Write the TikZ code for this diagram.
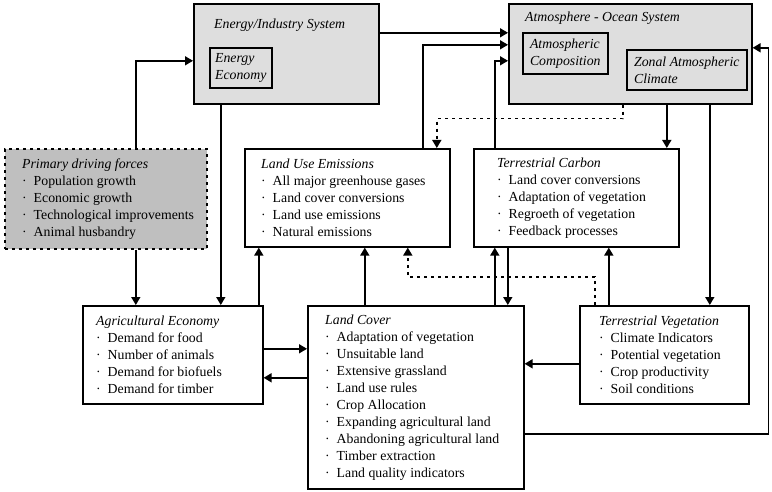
\documentclass[tikz,border=0pt]{standalone}
\usepackage{fontspec}
\setmainfont{Liberation Serif}
\usetikzlibrary{arrows.meta}

\begin{document}
\begin{tikzpicture}[x=1pt,y=-1pt,
  font=\fontsize{13.8}{17}\selectfont,
  blk/.style={draw, line width=1.6pt, anchor=north west, inner sep=0pt},
  txt/.style={anchor=west, align=left, inner sep=0pt},
  flow/.style={line width=1.6pt, -{Triangle[length=8pt,width=9pt]}},
  dflow/.style={flow, dash pattern=on 3pt off 4pt}]

\useasboundingbox (0,0) rectangle (772,492);

% upper systems
\node[blk, fill=black!13, minimum width=185pt, minimum height=100pt] (eis) at (193,3) {};
\node[anchor=base west, inner sep=0pt] (eist) at ([xshift=21pt,yshift=-26pt]eis.north west) {\itshape Energy/Industry System};
\node[blk, align=left, inner xsep=5pt, minimum width=62pt, minimum height=40pt] (ee) at (209,47) {\itshape Energy\\\itshape Economy};

\node[blk, fill=black!13, minimum width=243pt, minimum height=100pt] (aos) at (508,3) {};
\node[anchor=base west, inner sep=0pt] (aost) at ([xshift=17pt,yshift=-19pt]aos.north west) {\itshape Atmosphere - Ocean System};
\node[blk, align=left, inner xsep=6pt, minimum width=85pt, minimum height=41pt] (ac) at (522,32) {\itshape Atmospheric\\\itshape Composition};
\node[blk, align=left, inner xsep=7pt, minimum width=120pt, minimum height=40pt] (zac) at (626,49) {\itshape Zonal Atmospheric\\\itshape Climate};

% middle row
\node[blk, fill=black!25, dash pattern=on 3pt off 4pt, minimum width=202pt, minimum height=100pt] (pdf) at (4,148) {};
\node[txt] (pdft) at ([xshift=18pt]pdf.west) {\textit{Primary driving forces}\\
  \textperiodcentered\enspace Population growth\\
  \textperiodcentered\enspace Economic growth\\
  \textperiodcentered\enspace Technological improvements\\
  \textperiodcentered\enspace Animal husbandry};

\node[blk, minimum width=205pt, minimum height=98pt] (lue) at (244,148) {};
\node[txt] (luet) at ([xshift=17pt]lue.west) {\textit{Land Use Emissions}\\
  \textperiodcentered\enspace All major greenhouse gases\\
  \textperiodcentered\enspace Land cover conversions\\
  \textperiodcentered\enspace Land use emissions\\
  \textperiodcentered\enspace Natural emissions};

\node[blk, minimum width=205pt, minimum height=98pt] (tc) at (473,148) {};
\node[txt] (tct) at ([xshift=24pt]tc.west) {\textit{Terrestrial Carbon}\\
  \textperiodcentered\enspace Land cover conversions\\
  \textperiodcentered\enspace Adaptation of vegetation\\
  \textperiodcentered\enspace Regroeth of vegetation\\
  \textperiodcentered\enspace Feedback processes};

% lower row
\node[blk, minimum width=180pt, minimum height=98pt] (age) at (82,305) {};
\node[txt] (aget) at ([xshift=14pt]age.west) {\textit{Agricultural Economy}\\
  \textperiodcentered\enspace Demand for food\\
  \textperiodcentered\enspace Number of animals\\
  \textperiodcentered\enspace Demand for biofuels\\
  \textperiodcentered\enspace Demand for timber};

\node[blk, minimum width=216pt, minimum height=183pt] (lc) at (307,305) {};
\node[txt] (lct) at ([xshift=18pt]lc.west) {\textit{Land Cover}\\
  \textperiodcentered\enspace Adaptation of vegetation\\
  \textperiodcentered\enspace Unsuitable land\\
  \textperiodcentered\enspace Extensive grassland\\
  \textperiodcentered\enspace Land use rules\\
  \textperiodcentered\enspace Crop Allocation\\
  \textperiodcentered\enspace Expanding agricultural land\\
  \textperiodcentered\enspace Abandoning agricultural land\\
  \textperiodcentered\enspace Timber extraction\\
  \textperiodcentered\enspace Land quality indicators};

\node[blk, minimum width=169pt, minimum height=98pt] (tv) at (579,305) {};
\node[txt] (tvt) at ([xshift=20pt]tv.west) {\textit{Terrestrial Vegetation}\\
  \textperiodcentered\enspace Climate Indicators\\
  \textperiodcentered\enspace Potential vegetation\\
  \textperiodcentered\enspace Crop productivity\\
  \textperiodcentered\enspace Soil conditions};

% links between systems
\draw[flow] ([xshift=30pt]pdf.north) |- ([yshift=-7pt]eis.west);
\draw[flow] ([xshift=30pt]pdf.south) -- ([xshift=30pt]pdf.south |- age.north);
\draw[flow] ([xshift=-65.5pt]eis.south) -- ([xshift=-65.5pt]eis.south |- age.north);
\draw[flow] ([yshift=21pt]eis.east) -- ([yshift=21pt]eis.east -| aos.west);
\draw[flow] ([xshift=75.5pt]lue.north) |- ([yshift=9pt]aos.west);
\draw[flow] ([xshift=-81.5pt]tc.north) |- ([yshift=-7pt]aos.west);
\draw[dflow] ([xshift=-7.5pt]aos.south) -- ++(0,14) -| ([xshift=89.5pt]lue.north);
\draw[flow] ([xshift=36.5pt]aos.south) -- ([xshift=36.5pt]aos.south |- tc.north);
\draw[flow] ([xshift=79.5pt]aos.south) -- ([xshift=79.5pt]aos.south |- tv.north);
\draw[flow] ([yshift=-36.5pt]lc.east) -- ++(244,0) |- ([yshift=6pt]aos.east);
\draw[flow] ([xshift=86pt]age.north) -- ([xshift=86pt]age.north |- lue.south);
\draw[flow] ([xshift=-51pt]lc.north) -- ([xshift=-51pt]lc.north |- lue.south);
\draw[flow] ([xshift=79pt]lc.north) -- ([xshift=79pt]lc.north |- tc.south);
\draw[flow] ([xshift=-68.5pt]tc.south) -- ([xshift=-68.5pt]tc.south |- lc.north);
\draw[flow] ([xshift=-55.5pt]tv.north) -- ([xshift=-55.5pt]tv.north |- tc.south);
\draw[dflow] ([xshift=-69.5pt]tv.north) -- ++(0,-28) -| ([xshift=60.5pt]lue.south);
\draw[flow] ([yshift=6pt]age.east) -- ([yshift=6pt]age.east -| lc.west);
\draw[flow] ([yshift=19.5pt]lc.west) -- ([yshift=19.5pt]lc.west -| age.east);
\draw[flow] ([yshift=-9pt]tv.west) -- ([yshift=-9pt]tv.west -| lc.east);
\end{tikzpicture}
\end{document}
